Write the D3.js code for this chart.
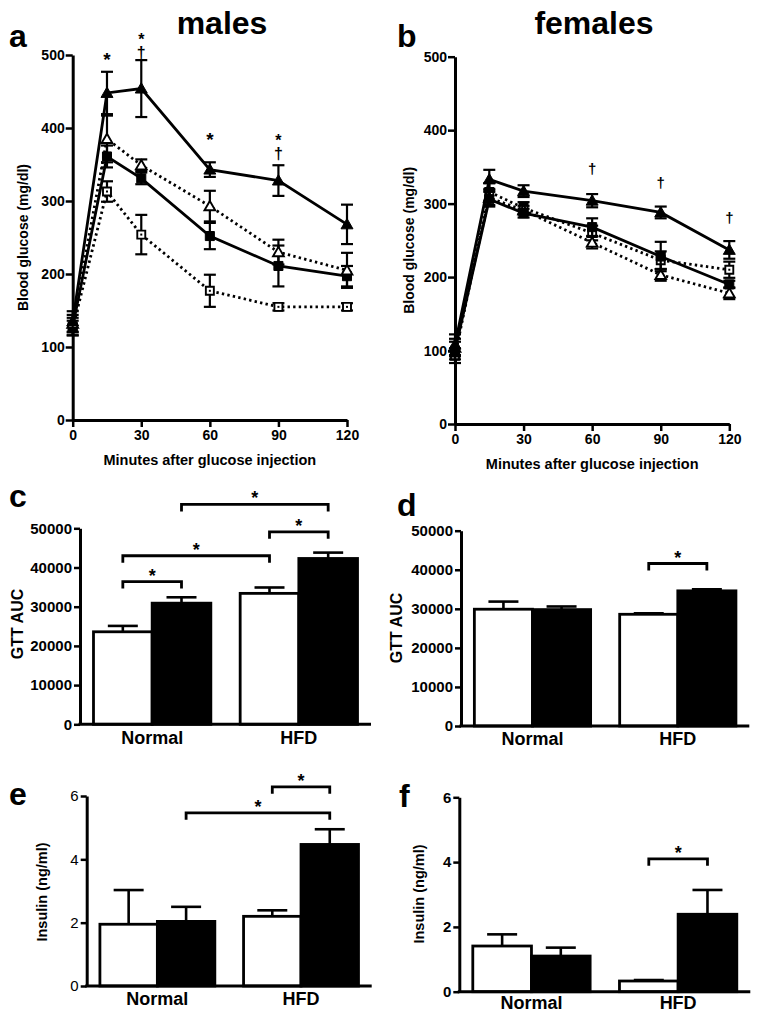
<!DOCTYPE html>
<html><head><meta charset="utf-8">
<script src="https://cdn.jsdelivr.net/npm/d3@7"></script>
<style>body{margin:0;background:#fff}</style>
</head><body><svg id="c" width="762" height="1019"></svg>
<script>
// ---------- DATA ----------
const timePoints = [0, 15, 30, 60, 90, 120];
const timeTicks = [0, 30, 60, 90, 120];
const glucoseTicks = [0, 100, 200, 300, 400, 500];

// males (blood glucose, mg/dl)
const maleFilledTri    = [135, 448, 454, 343, 328, 268];
const maleFilledTriErr = [14, 29, 39, 10, 21, 27];
const maleOpenTri      = [132, 385, 349, 293, 230, 205];
const maleOpenTriErr   = [12, 32, 8, 21, 17, 24];
const maleFilledSq     = [128, 361, 331, 252, 211, 197];
const maleFilledSqErr  = [12, 15, 8, 18, 28, 14];
const maleOpenSq       = [126, 313, 254, 177, 155, 155];
const maleOpenSqErr    = [10, 14, 27, 22, 5, 5];
const maleSig = [
  {t: 15, sym: "*", v: 500}, {t: 30, sym: "*", v: 528}, {t: 30, sym: "†", v: 509},
  {t: 60, sym: "*", v: 390}, {t: 90, sym: "*", v: 389}, {t: 90, sym: "†", v: 370}
];

// females
const femFilledTri    = [108, 333, 317, 304, 288, 237];
const femFilledTriErr = [14, 13, 8, 9, 8, 12];
const femOpenTri      = [104, 308, 291, 247, 203, 178];
const femOpenTriErr   = [12, 10, 6, 8, 8, 8];
const femFilledSq     = [100, 306, 287, 268, 228, 190];
const femFilledSqErr  = [12, 10, 6, 12, 20, 5];
const femOpenSq       = [93, 316, 294, 260, 223, 210];
const femOpenSqErr    = [10, 12, 8, 10, 12, 11];
const femSig = [{t: 60, sym: "†", v: 346}, {t: 90, sym: "†", v: 328}, {t: 120, sym: "†", v: 280}];

// bar charts
const barGroups = ["Normal", "HFD"];
const barKinds = ["open", "filled"];
const gttTicks = [0, 10000, 20000, 30000, 40000, 50000];
const insulinTicks = [0, 2, 4, 6];

const gttMaleOpen = [23600, 33400],    gttMaleOpenErr = [1500, 1500];
const gttMaleFilled = [30900, 42300],  gttMaleFilledErr = [1500, 1500];
const gttFemOpen = [29900, 28600],     gttFemOpenErr = [1950, 250];
const gttFemFilled = [29800, 34600],   gttFemFilledErr = [800, 400];
const insMaleOpen = [1.95, 2.2],       insMaleOpenErr = [1.08, 0.19];
const insMaleFilled = [2.04, 4.47],    insMaleFilledErr = [0.46, 0.48];
const insFemOpen = [1.41, 0.33],       insFemOpenErr = [0.36, 0.03];
const insFemFilled = [1.10, 2.39],     insFemFilledErr = [0.26, 0.75];

const gttMaleBrackets = [
  {a: ["Normal", "open"], b: ["Normal", "filled"], v: 36400},
  {a: ["Normal", "open"], b: ["HFD", "open"], v: 43000},
  {a: ["HFD", "open"], b: ["HFD", "filled"], v: 49100},
  {a: ["Normal", "filled"], b: ["HFD", "filled"], v: 56100}
];
const gttFemBrackets = [{a: ["HFD", "open"], b: ["HFD", "filled"], v: 41600}];
const insMaleBrackets = [
  {a: ["HFD", "open"], b: ["HFD", "filled"], v: 6.29},
  {a: ["Normal", "filled"], b: ["HFD", "filled"], v: 5.47}
];
const insFemBrackets = [{a: ["HFD", "open"], b: ["HFD", "filled"], v: 4.10}];

// ---------- DRAWING ----------
const svg = d3.select("#c");
svg.append("rect").attr("width", 762).attr("height", 1019).attr("fill", "#fff");
const FONT = "'Liberation Sans', Arial, Helvetica, sans-serif";

function txt(g, x, y, s, size, opts = {}) {
  return g.append("text").attr("x", x).attr("y", y).text(s)
    .attr("font-family", FONT).attr("font-size", size)
    .attr("font-weight", opts.weight || "bold")
    .attr("text-anchor", opts.anchor || "middle")
    .attr("fill", "#000");
}
function ylabel(g, x, y, s, size) {
  g.append("text").attr("transform", `translate(${x},${y}) rotate(-90)`)
    .attr("text-anchor", "middle").attr("dominant-baseline", "central")
    .attr("font-family", FONT).attr("font-size", size).attr("font-weight", "bold").text(s);
}
function styleAxis(ax, size, weight) {
  ax.select(".domain").attr("stroke", "#000").attr("stroke-width", 3);
  ax.selectAll(".tick line").attr("stroke", "#000").attr("stroke-width", 2.5);
  ax.selectAll("text").attr("font-family", FONT).attr("font-size", size)
    .attr("font-weight", weight).attr("fill", "#000");
}

function linePanel(cfg) {
  const g = svg.append("g");
  const x = d3.scaleLinear([0, 120], [cfg.x0, cfg.x1]);
  const y = d3.scaleLinear([0, 500], [cfg.yb, cfg.yt]);
  const ax = g.append("g").attr("transform", `translate(0,${cfg.yb})`)
    .call(d3.axisBottom(x).tickValues(timeTicks).tickSize(7).tickSizeOuter(0).tickPadding(3));
  styleAxis(ax, 14, "bold");
  const ay = g.append("g").attr("transform", `translate(${cfg.x0},0)`)
    .call(d3.axisLeft(y).tickValues(glucoseTicks).tickSize(7).tickSizeOuter(0).tickPadding(1));
  styleAxis(ay, 14, "bold");

  cfg.series.forEach(s => {
    const pts = timePoints.map((t, i) => ({t, v: s.values[i], e: s.err[i]}));
    const eb = g.append("g").attr("stroke", "#000").attr("stroke-width", 2.2);
    pts.forEach(p => {
      eb.append("line").attr("x1", x(p.t)).attr("x2", x(p.t)).attr("y1", y(p.v - p.e)).attr("y2", y(p.v + p.e));
      [p.v - p.e, p.v + p.e].forEach(v => eb.append("line")
        .attr("x1", x(p.t) - 6).attr("x2", x(p.t) + 6).attr("y1", y(v)).attr("y2", y(v)));
    });
    g.append("path").datum(pts)
      .attr("d", d3.line().x(p => x(p.t)).y(p => y(p.v)))
      .attr("fill", "none").attr("stroke", "#000").attr("stroke-width", 2.8)
      .attr("stroke-dasharray", s.dotted ? "2.4,3.2" : null);
    const sym = d3.symbol(s.shape === "tri" ? d3.symbolTriangle : d3.symbolSquare,
      s.shape === "tri" ? (s.filled ? 62 : 50) : (s.filled ? 82 : 64));
    g.selectAll(null).data(pts).join("path")
      .attr("transform", p => `translate(${x(p.t)},${y(p.v) + (s.shape === "tri" ? 1 : 0)})`)
      .attr("d", sym)
      .attr("fill", s.filled ? "#000" : "#fff").attr("stroke", "#000")
      .attr("stroke-width", s.filled ? 1 : 1.9);
    if (s.shape === "sq" && !s.filled) {
      g.selectAll(null).data(pts).join("rect")
        .attr("x", p => x(p.t) - 1).attr("y", p => y(p.v) - 1)
        .attr("width", 2).attr("height", 2).attr("fill", "#000");
    }
  });

  // significance marks; stacked marks (* over †) written as one vertical text
  d3.groups(cfg.sig, s => s.t).forEach(([t, marks]) => {
    if (marks.length === 1) {
      const m = marks[0], star = m.sym === "*";
      txt(g, x(t), y(m.v) + (star ? 10.5 : 4.5), m.sym, star ? 19 : 15);
    } else {
      const top = d3.max(marks, m => m.v);
      g.append("text").attr("x", x(t)).attr("y", y(top) - 4)
        .attr("font-family", FONT).attr("font-weight", "bold").attr("font-size", 16)
        .attr("fill", "#000")
        .style("writing-mode", "vertical-rl").style("text-orientation", "upright")
        .style("letter-spacing", "-4px")
        .text(marks.map(m => m.sym).join(""));
    }
  });

  txt(g, (cfg.x0 + cfg.x1) / 2, cfg.yb + 45, "Minutes after glucose injection", 14.5);
  ylabel(g, cfg.ylx, (cfg.yt + cfg.yb) / 2, "Blood glucose (mg/dl)", 14);
  txt(g, cfg.titleX, 34, cfg.title, 32);
  txt(g, cfg.letterX, 47, cfg.letter, 32, {anchor: "start"});
}

linePanel({
  x0: 72.7, x1: 347, yb: 420, yt: 55, ylx: 23, titleX: 222, title: "males", letterX: 9, letter: "a",
  sig: maleSig,
  series: [
    {values: maleOpenSq, err: maleOpenSqErr, shape: "sq", filled: false, dotted: true},
    {values: maleFilledSq, err: maleFilledSqErr, shape: "sq", filled: true, dotted: false},
    {values: maleOpenTri, err: maleOpenTriErr, shape: "tri", filled: false, dotted: true},
    {values: maleFilledTri, err: maleFilledTriErr, shape: "tri", filled: true, dotted: false}
  ]
});
linePanel({
  x0: 455, x1: 729.3, yb: 424, yt: 56.7, ylx: 409, titleX: 594, title: "females", letterX: 397, letter: "b",
  sig: femSig,
  series: [
    {values: femOpenSq, err: femOpenSqErr, shape: "sq", filled: false, dotted: true},
    {values: femOpenTri, err: femOpenTriErr, shape: "tri", filled: false, dotted: true},
    {values: femFilledSq, err: femFilledSqErr, shape: "sq", filled: true, dotted: false},
    {values: femFilledTri, err: femFilledTriErr, shape: "tri", filled: true, dotted: false}
  ]
});

function barPanel(cfg) {
  const g = svg.append("g");
  const xb = d3.scaleBand(barGroups, [cfg.x0, cfg.x1]).paddingInner(0.2).paddingOuter(0.092);
  const xs = d3.scaleBand(barKinds, [0, xb.bandwidth()]);
  const y = d3.scaleLinear(cfg.domain, [cfg.yb, cfg.yt]);
  const data = [];
  barGroups.forEach((grp, i) => {
    data.push({grp, kind: "open", v: cfg.open[i], e: cfg.openErr[i]});
    data.push({grp, kind: "filled", v: cfg.filled[i], e: cfg.filledErr[i]});
  });
  const cx = (grp, kind) => xb(grp) + xs(kind) + xs.bandwidth() / 2;
  const eb = g.append("g").attr("stroke", "#000").attr("stroke-width", 2.6);
  data.forEach(d => {
    eb.append("line").attr("x1", cx(d.grp, d.kind)).attr("x2", cx(d.grp, d.kind))
      .attr("y1", y(d.v)).attr("y2", y(d.v + d.e));
    eb.append("line").attr("x1", cx(d.grp, d.kind) - 15).attr("x2", cx(d.grp, d.kind) + 15)
      .attr("y1", y(d.v + d.e)).attr("y2", y(d.v + d.e));
  });
  g.selectAll(null).data(data).join("rect")
    .attr("x", d => xb(d.grp) + xs(d.kind)).attr("width", xs.bandwidth())
    .attr("y", d => y(d.v)).attr("height", d => y(0) - y(d.v))
    .attr("fill", d => d.kind === "filled" ? "#000" : "#fff")
    .attr("stroke", "#000").attr("stroke-width", 2.8);

  const ay = g.append("g").attr("transform", `translate(${cfg.x0},0)`)
    .call(d3.axisLeft(y).tickValues(cfg.ticks).tickFormat(d3.format("d")).tickSize(6).tickSizeOuter(0).tickPadding(2));
  styleAxis(ay, 15, cfg.tickWeight);
  g.append("line").attr("x1", cfg.x0 - 1.5).attr("x2", cfg.x1).attr("y1", cfg.yb).attr("y2", cfg.yb)
    .attr("stroke", "#000").attr("stroke-width", 3);
  barGroups.forEach(grp => txt(g, xb(grp) + xb.bandwidth() / 2, cfg.yb + cfg.catDy, grp, 18));

  cfg.brackets.forEach(b => {
    const xa = cx(b.a[0], b.a[1]), xbb = cx(b.b[0], b.b[1]), yy = y(b.v);
    g.append("path").attr("d", `M${xa},${yy + 7}V${yy}H${xbb}V${yy + 7}`)
      .attr("fill", "none").attr("stroke", "#000").attr("stroke-width", 2.8);
    txt(g, (xa + xbb) / 2, yy - 10, "*", 18).attr("dy", "0.56em");
  });

  ylabel(g, cfg.ylx, cfg.yly, cfg.ylabel, cfg.ylSize);
  txt(g, cfg.letterX, cfg.letterY, cfg.letter, 32, {anchor: "start"});
}

barPanel({
  x0: 80, x1: 371, yb: 724.3, yt: 528.3, domain: [0, 50000], ticks: gttTicks, tickWeight: "bold",
  open: gttMaleOpen, openErr: gttMaleOpenErr, filled: gttMaleFilled, filledErr: gttMaleFilledErr,
  brackets: gttMaleBrackets, catDy: 20, ylx: 17, yly: 624, ylabel: "GTT AUC", ylSize: 16,
  letterX: 9, letterY: 507, letter: "c"
});
barPanel({
  x0: 461, x1: 749.3, yb: 726, yt: 530.7, domain: [0, 50000], ticks: gttTicks, tickWeight: "bold",
  open: gttFemOpen, openErr: gttFemOpenErr, filled: gttFemFilled, filledErr: gttFemFilledErr,
  brackets: gttFemBrackets, catDy: 19, ylx: 396, yly: 628, ylabel: "GTT AUC", ylSize: 16,
  letterX: 397, letterY: 516, letter: "d"
});
barPanel({
  x0: 86.7, x1: 371.7, yb: 986, yt: 796, domain: [0, 6], ticks: insulinTicks, tickWeight: "normal",
  open: insMaleOpen, openErr: insMaleOpenErr, filled: insMaleFilled, filledErr: insMaleFilledErr,
  brackets: insMaleBrackets, catDy: 18.5, ylx: 42, yly: 892, ylabel: "Insulin (ng/ml)", ylSize: 14.5,
  letterX: 9, letterY: 805, letter: "e"
});
barPanel({
  x0: 459.3, x1: 750.3, yb: 991.7, yt: 797.3, domain: [0, 6], ticks: insulinTicks, tickWeight: "bold",
  open: insFemOpen, openErr: insFemOpenErr, filled: insFemFilled, filledErr: insFemFilledErr,
  brackets: insFemBrackets, catDy: 17, ylx: 419, yly: 894, ylabel: "Insulin (ng/ml)", ylSize: 14.5,
  letterX: 399, letterY: 807, letter: "f"
});
</script></body></html>
